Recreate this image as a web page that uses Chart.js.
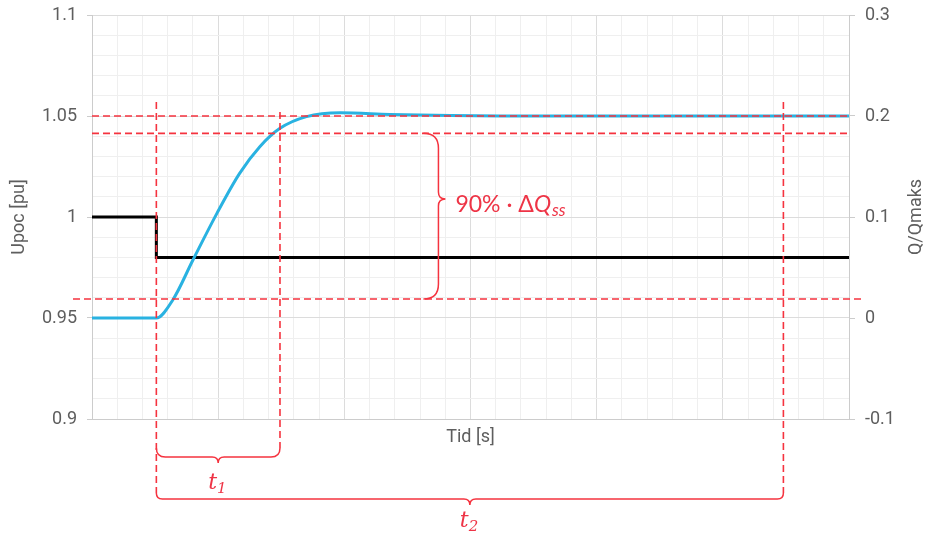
<!DOCTYPE html>
<html>
<head>
<meta charset="utf-8">
<script src="https://cdn.jsdelivr.net/npm/chart.js@4"></script>
<style>
  html, body { margin: 0; padding: 0; background: #fff; }
  #chart { display: block; }
</style>
</head>
<body>
<canvas id="chart" width="927" height="538"></canvas>
<script>
// Q/Qmaks response (right axis)
const blueTime = [0, 2.55, 3.2, 4.0, 4.95, 5.85, 6.65, 7.45, 8.5, 9.85, 11.8, 14.2, 16.2, 30];
const blueQ = [0, 0, 0.0178, 0.0574, 0.1036, 0.1432, 0.1696, 0.1878, 0.1994, 0.2032, 0.2016, 0.2004, 0.2, 0.2];

// Upoc step (left axis)
const blackTime = [0, 2.55, 2.55, 30];
const blackU = [1.0, 1.0, 0.98, 0.98];

// annotation levels (Upoc units) and marker times
const levelU = [1.05, 1.0414, 0.9594];
const markTimes = [2.55, 7.45, 27.4];
const braceTime = 13.65;

const RED = '#f5333f';
const LABEL_RED = '#ee3446';
const FONT = 'Roboto, "Noto Sans", sans-serif';
const TXT = '#5e5e5e';

const isMajorU = v => Math.abs(Math.round(v * 100) % 5) === 0;

function hBrace(ctx, xa, xb, yTop, r, tip) {
    const xm = (xa + xb) / 2, yb = yTop + r;
    ctx.beginPath();
    ctx.moveTo(xa, yTop);
    ctx.quadraticCurveTo(xa, yb, xa + r, yb);
    ctx.lineTo(xm - tip, yb);
    ctx.quadraticCurveTo(xm, yb, xm, yb + tip);
    ctx.quadraticCurveTo(xm, yb, xm + tip, yb);
    ctx.lineTo(xb - r, yb);
    ctx.quadraticCurveTo(xb, yb, xb, yTop);
    ctx.stroke();
}

function vBrace(ctx, xEnd, ya, yb, ym, r, tip) {
    const xs = xEnd + r;
    ctx.beginPath();
    ctx.moveTo(xEnd, ya);
    ctx.quadraticCurveTo(xs, ya, xs, ya + r);
    ctx.lineTo(xs, ym - tip);
    ctx.quadraticCurveTo(xs, ym, xs + tip, ym);
    ctx.quadraticCurveTo(xs, ym, xs, ym + tip);
    ctx.lineTo(xs, yb - r);
    ctx.quadraticCurveTo(xs, yb, xEnd, yb);
    ctx.stroke();
}

function subText(ctx, x, yBase, main, sub, size) {
    ctx.font = 'italic ' + size + 'px "DejaVu Serif", serif';
    ctx.fillText(main, x, yBase);
    const w = ctx.measureText(main).width;
    ctx.font = 'italic ' + Math.round(size * 0.68) + 'px "DejaVu Serif", serif';
    ctx.fillText(sub, x + w, yBase + size * 0.18);
}

const annotations = {
    id: 'annotations',
    afterDatasetsDraw(chart) {
        const {ctx, chartArea: a, scales: {x, y}} = chart;
        ctx.save();
        ctx.strokeStyle = RED;
        ctx.lineWidth = 1.6;
        ctx.setLineDash([7, 4]);

        const yl = levelU.map(v => y.getPixelForValue(v));
        const xm = markTimes.map(t => x.getPixelForValue(t));

        // horizontal dashed levels
        [[yl[0], a.left, a.right], [yl[1], a.left, a.right], [yl[2], a.left - 19, a.right + 14]].forEach(([yy, x0, x1]) => {
            ctx.beginPath(); ctx.moveTo(x0, yy); ctx.lineTo(x1, yy); ctx.stroke();
        });

        // vertical dashed markers
        [[xm[0], yl[0] - 14, 493], [xm[1], yl[0] - 4, 448], [xm[2], yl[0] - 14, 493]].forEach(([xx, y0, y1]) => {
            ctx.beginPath(); ctx.moveTo(xx, y0); ctx.lineTo(xx, y1); ctx.stroke();
        });

        // braces
        ctx.setLineDash([]);
        ctx.lineWidth = 1.5;
        const xb = x.getPixelForValue(braceTime);
        vBrace(ctx, xb - 13, yl[1], yl[2], 199, 15, 7);
        hBrace(ctx, xm[0], xm[1], 448, 9, 6);
        hBrace(ctx, xm[0], xm[2], 493, 6, 6);

        // labels
        ctx.fillStyle = LABEL_RED;
        ctx.textBaseline = 'alphabetic';
        ctx.textAlign = 'left';
        ctx.font = '23px Lato, sans-serif';
        const lx = xb + 19, ly = 212;
        const pre = '90% \u00b7 \u0394';
        ctx.fillText(pre, lx, ly);
        let w = ctx.measureText(pre).width;
        ctx.font = 'italic 23px Lato, sans-serif';
        ctx.fillText('Q', lx + w, ly);
        w += ctx.measureText('Q').width;
        ctx.font = 'italic 17px Lato, sans-serif';
        ctx.fillText('ss', lx + w + 1, ly + 4);

        subText(ctx, (xm[0] + xm[1]) / 2 - 10, 489, 't', '1', 22);
        subText(ctx, (xm[0] + xm[2]) / 2 - 10, 527, 't', '2', 22);

        // right axis title, reading bottom to top
        ctx.fillStyle = TXT;
        ctx.font = '18px ' + FONT;
        ctx.textAlign = 'center';
        ctx.textBaseline = 'middle';
        ctx.translate(916, (a.top + a.bottom) / 2);
        ctx.rotate(-Math.PI / 2);
        ctx.fillText('Q/Qmaks', 0, 0);
        ctx.restore();
    }
};

new Chart(document.getElementById('chart'), {
    type: 'line',
    data: {
        datasets: [{
            label: 'Q/Qmaks',
            data: blueTime.map((t, i) => ({x: t, y: blueQ[i]})),
            yAxisID: 'y1',
            borderColor: '#29b2e1',
            borderWidth: 3,
            pointRadius: 0,
            cubicInterpolationMode: 'monotone',
            fill: false
        }, {
            label: 'Upoc',
            data: blackTime.map((t, i) => ({x: t, y: blackU[i]})),
            yAxisID: 'y',
            borderColor: '#000',
            borderWidth: 3,
            pointRadius: 0,
            tension: 0,
            fill: false
        }]
    },
    options: {
        responsive: false,
        devicePixelRatio: 1,
        animation: false,
        layout: { padding: { top: 15, bottom: 0, left: 0, right: 0 } },
        plugins: { legend: { display: false }, tooltip: { enabled: false } },
        scales: {
            x: {
                type: 'linear',
                min: 0, max: 30,
                ticks: { display: false, stepSize: 1, autoSkip: false },
                grid: {
                    drawTicks: false,
                    color: c => (c.tick && c.tick.value % 5 === 0) ? '#dcdcdc' : '#efefef'
                },
                border: { color: '#cccccc' },
                title: {
                    display: true, text: 'Tid [s]', color: TXT,
                    font: { family: FONT, size: 18 },
                    padding: { top: 0, bottom: 90 }
                },
                afterFit: s => { s.height = 119; }
            },
            y: {
                position: 'left',
                min: 0.9, max: 1.1,
                ticks: {
                    stepSize: 0.01, autoSkip: false, padding: 10, color: TXT,
                    font: { family: FONT, size: 18 },
                    callback: v => isMajorU(v) ? String(Number(v.toFixed(2))) : ''
                },
                grid: {
                    tickLength: 5,
                    color: c => (c.tick && isMajorU(c.tick.value)) ? '#dcdcdc' : '#efefef',
                    tickColor: c => (c.tick && isMajorU(c.tick.value)) ? '#cccccc' : 'rgba(0,0,0,0)'
                },
                border: { color: '#cccccc' },
                title: {
                    display: true, text: 'Upoc [pu]', color: TXT,
                    font: { family: FONT, size: 18 },
                    padding: { top: 9, bottom: 0 }
                },
                afterFit: s => { s.width = 92; s.paddingTop = 10; s.paddingBottom = 10; }
            },
            y1: {
                position: 'right',
                min: -0.1, max: 0.3,
                ticks: {
                    stepSize: 0.1, padding: 10, color: TXT,
                    font: { family: FONT, size: 18 },
                    callback: v => String(Number(v.toFixed(1)))
                },
                grid: { drawOnChartArea: false, tickLength: 6, tickColor: '#cccccc' },
                border: { color: '#cccccc' },
                afterFit: s => { s.width = 78; s.paddingTop = 10; s.paddingBottom = 10; }
            }
        }
    },
    plugins: [annotations]
});
</script>
</body>
</html>
